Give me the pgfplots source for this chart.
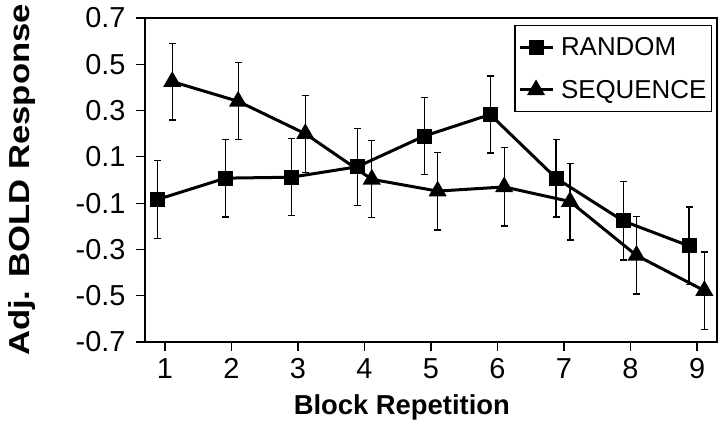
\documentclass[border=0pt]{standalone}
\usepackage{fontspec}
\setmainfont{Liberation Sans}
\usepackage{graphicx}
\usepackage{pgfplots}
\usepackage{pgfplotstable}
\pgfplotsset{compat=1.18}
\pgfplotstableread{
x y e
0.89 -0.084 0.168
1.91 0.008 0.168
2.90 0.012 0.167
3.89 0.057 0.167
4.90 0.190 0.165
5.89 0.283 0.166
6.88 0.008 0.168
7.89 -0.177 0.169
8.88 -0.285 0.168
}\randomtab
\pgfplotstableread{
x y e
1.11 0.425 0.166
2.10 0.340 0.166
3.11 0.200 0.166
4.11 0.003 0.166
5.10 -0.048 0.168
6.10 -0.030 0.169
7.09 -0.093 0.166
8.09 -0.326 0.167
9.11 -0.478 0.167
}\seqtab
\begin{document}
\begin{tikzpicture}
\path[use as bounding box] (-145bp,-85bp) rectangle (575bp,342bp);
\begin{axis}[
  at={(0bp,0bp)}, anchor=south west,
  scale only axis, width=572bp, height=324bp,
  xmin=0.7, xmax=9.3, ymin=-0.7, ymax=0.7,
  xtick={1,2,3,4,5,6,7,8,9},
  ytick={-0.7,-0.5,-0.3,-0.1,0.1,0.3,0.5,0.7},
  yticklabel style={/pgf/number format/fixed, /pgf/number format/precision=1, /pgf/number format/fixed zerofill},
  /pgf/number format/assume math mode=true,
  xtick pos=bottom, ytick pos=left,
  tick align=outside, major tick length=9bp,
  tick style={line width=1.2bp, black},
  axis line style={line width=1.8bp, black},
  ticklabel style={font=\fontsize{29}{31}\selectfont},
  xticklabel style={yshift=-4bp},
  yticklabel style={xshift=-7bp},
  clip=false,
  xlabel={Block Repetition},
  xlabel style={font=\bfseries\fontsize{27.5}{30}\selectfont, at={(axis description cs:0.449,-0.225)}, anchor=base},
  ylabel={\scalebox{1.2}[1]{Adj. BOLD Response}},
  ylabel style={font=\bfseries\fontsize{29}{32}\selectfont, at={(axis description cs:-0.215,0.5)}, anchor=center},
  legend style={at={(axis description cs:1,1)}, anchor=north east, xshift=-5bp, yshift=-7bp,
    draw=black, line width=1.2bp, font=\fontsize{26}{28}\selectfont,
    inner xsep=3bp, inner ysep=10bp, row sep=19bp,
    /tikz/every odd column/.append style={column sep=5bp}},
  legend cell align=left,
  legend image code/.code={\draw[mark repeat=2,mark phase=2,#1] plot coordinates {(0bp,0bp) (16.5bp,0bp) (33bp,0bp)};},
  error bars/error bar style={line width=1.2bp, black},
  error bars/error mark options={rotate=90, mark size=3.5bp, line width=1.2bp, black},
]
\addplot[black, line width=3bp, mark=square*, mark size=6bp, mark options={solid},
  error bars/.cd, y dir=both, y explicit]
  table[x=x, y=y, y error=e] {\randomtab};
\addlegendentry{RANDOM}
\addplot[black, line width=3bp, mark=triangle*, mark size=7.5bp, mark options={solid},
  error bars/.cd, y dir=both, y explicit]
  table[x=x, y=y, y error=e] {\seqtab};
\addlegendentry{SEQUENCE}
\end{axis}
\end{tikzpicture}
\end{document}
